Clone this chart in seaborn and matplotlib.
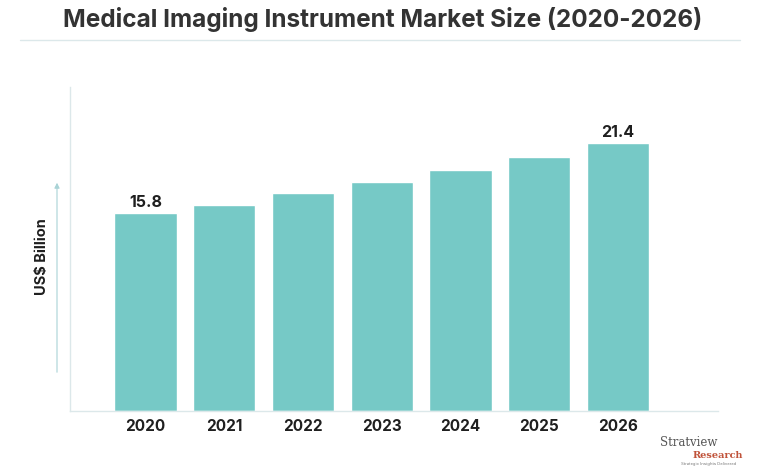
import matplotlib
matplotlib.use("Agg")
import matplotlib.pyplot as plt
import seaborn as sns
import pandas as pd

# 데이터
years = ["2020", "2021", "2022", "2023", "2024", "2025", "2026"]
market_size = [15.8, 16.5, 17.4, 18.3, 19.3, 20.3, 21.4]
shown_labels = {"2020": "15.8", "2026": "21.4"}

df = pd.DataFrame({"year": years, "size": market_size})

sns.set_style("white")
plt.rcParams['font.family'] = ['Inter', 'DejaVu Sans']

bar_color = "#76C9C6"
axis_color = "#DCE8EA"
text_color = "#1F1F1F"

fig = plt.figure(figsize=(7.66, 4.71), dpi=100)
ax = fig.add_axes([70 / 766, 60 / 471, 648 / 766, 324 / 471])

sns.barplot(data=df, x="year", y="size", color=bar_color, width=0.79,
            saturation=1, ax=ax)

ax.set_xlim(-0.96, 7.27)
ax.set_ylim(0, 25.9)

# 값 라벨 (첫 해와 마지막 해만)
for i, (yr, val) in enumerate(zip(years, market_size)):
    if yr in shown_labels:
        ax.text(i, val + 0.25, shown_labels[yr], ha="center", va="bottom",
                fontsize=11.5, fontweight="bold", color=text_color)

ax.set_xlabel("")
ax.set_ylabel("")
ax.set_yticks([])
ax.tick_params(axis="x", length=0, pad=6)
for lbl in ax.get_xticklabels():
    lbl.set_fontsize(11)
    lbl.set_fontweight("bold")
    lbl.set_color(text_color)

for side in ["top", "right"]:
    ax.spines[side].set_visible(False)
for side in ["left", "bottom"]:
    ax.spines[side].set_color(axis_color)
    ax.spines[side].set_linewidth(1)

# 제목과 구분선
fig.text(0.5, 1 - 20 / 471, "Medical Imaging Instrument Market Size (2020-2026)",
         ha="center", va="center", fontsize=17.5, fontweight="bold", color="#333333")
fig.add_artist(plt.Line2D([20 / 766, 740 / 766], [1 - 39.5 / 471, 1 - 39.5 / 471],
                          color=axis_color, linewidth=1))

# y축 라벨과 화살표
fig.text(42 / 766, 1 - 257 / 471, "US$ Billion", rotation=90, ha="center",
         va="center", fontsize=10.5, fontweight="bold", color=text_color)
fig.add_artist(matplotlib.patches.FancyArrowPatch(
    (57 / 766, 1 - 375 / 471), (57 / 766, 1 - 180 / 471),
    transform=fig.transFigure, arrowstyle="-|>,head_length=3,head_width=1.5",
    color="#A9D3D6", linewidth=0.8))

# 로고 텍스트
fig.text(689 / 766, 1 - 443 / 471, "Stratview", ha="center", va="center",
         fontsize=8.5, family="DejaVu Serif", color="#555555")
fig.text(718 / 766, 1 - 455 / 471, "Research", ha="center", va="center",
         fontsize=7, family="DejaVu Serif", fontweight="bold", color="#C0533A")
fig.text(709 / 766, 1 - 464 / 471, "Strategic Insights Delivered", ha="center",
         va="center", fontsize=3, color="#777777")

fig.savefig("out.png", dpi=100)
